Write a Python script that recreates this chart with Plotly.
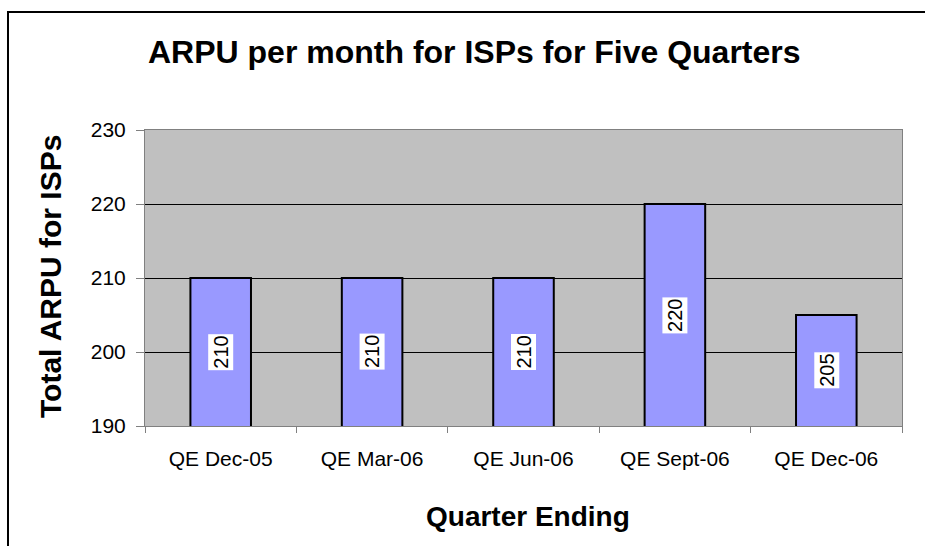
import plotly.graph_objects as go

categories = ["QE Dec-05", "QE Mar-06", "QE Jun-06", "QE Sept-06", "QE Dec-06"]
arpu = [210, 210, 210, 220, 205]
y_ticks = [190, 200, 210, 220, 230]

title_text = "ARPU per month for ISPs for Five Quarters"
x_title = "Quarter Ending"
y_title = "Total ARPU for ISPs"

W, H = 925, 546
L, R, T, B = 145, 902, 130, 426
ymin, ymax = y_ticks[0], y_ticks[-1]

def px_x(p):
    return (p - L) / (R - L)

def px_y(p):
    return (B - p) / (B - T)

FONT = "Liberation Sans, Arial, sans-serif"

fig = go.Figure()
fig.add_trace(go.Bar(
    x=categories, y=arpu,
    marker=dict(color="#9999FF", line=dict(color="black", width=2)),
    width=0.4, hoverinfo="x+y",
))

annotations = []
for c, v in zip(categories, arpu):
    annotations.append(dict(
        x=c, y=(v + ymin) / 2, xref="x", yref="y", text=str(v),
        textangle=-90, showarrow=False, bgcolor="white", borderpad=1,
        font=dict(family=FONT, size=20, color="black"),
    ))

annotations.append(dict(
    x=px_x(50), y=px_y(277), xref="paper", yref="paper", text="<b>%s</b>" % y_title,
    textangle=-90, showarrow=False, font=dict(family=FONT, size=30, color="black"),
    xanchor="center", yanchor="middle",
))
annotations.append(dict(
    x=px_x(528), y=px_y(516), xref="paper", yref="paper", text="<b>%s</b>" % x_title,
    showarrow=False, font=dict(family=FONT, size=28, color="black"),
    xanchor="center", yanchor="middle",
))
annotations.append(dict(
    x=px_x(474), y=px_y(52), xref="paper", yref="paper", text="<b>%s</b>" % title_text,
    showarrow=False, font=dict(family=FONT, size=32, color="black"),
    xanchor="center", yanchor="middle",
))

# outer chart frame: top and left edges; right and bottom run off the picture
shapes = [
    dict(type="path", xref="paper", yref="paper",
         path="M %f,%f L %f,%f L %f,%f" % (px_x(8), px_y(546), px_x(8), px_y(12), px_x(925), px_y(12)),
         line=dict(color="black", width=2)),
]

fig.update_layout(
    width=W, height=H,
    margin=dict(l=L, r=W - R, t=T, b=H - B, pad=0),
    paper_bgcolor="white", plot_bgcolor="#C0C0C0",
    showlegend=False,
    annotations=annotations, shapes=shapes,
    font=dict(family=FONT, color="black"),
)
fig.update_xaxes(
    showgrid=False, showline=True, linecolor="#808080", linewidth=1, mirror=True,
    ticks="outside", tickson="boundaries", ticklen=6, tickcolor="#808080",
    tickfont=dict(family=FONT, size=21, color="black"), ticklabelstandoff=14,
)
fig.update_yaxes(
    range=[ymin, ymax], tickvals=y_ticks, showgrid=True, gridcolor="black", gridwidth=1,
    showline=True, linecolor="#808080", linewidth=1, mirror=True,
    ticks="outside", ticklen=8, tickcolor="#808080", zeroline=False,
    tickfont=dict(family=FONT, size=21, color="black"), ticklabelstandoff=6,
)

fig.write_html(
    "out.html",
    config={"displayModeBar": False},
    post_script="document.body.style.margin='0';document.body.style.overflow='hidden';",
)
